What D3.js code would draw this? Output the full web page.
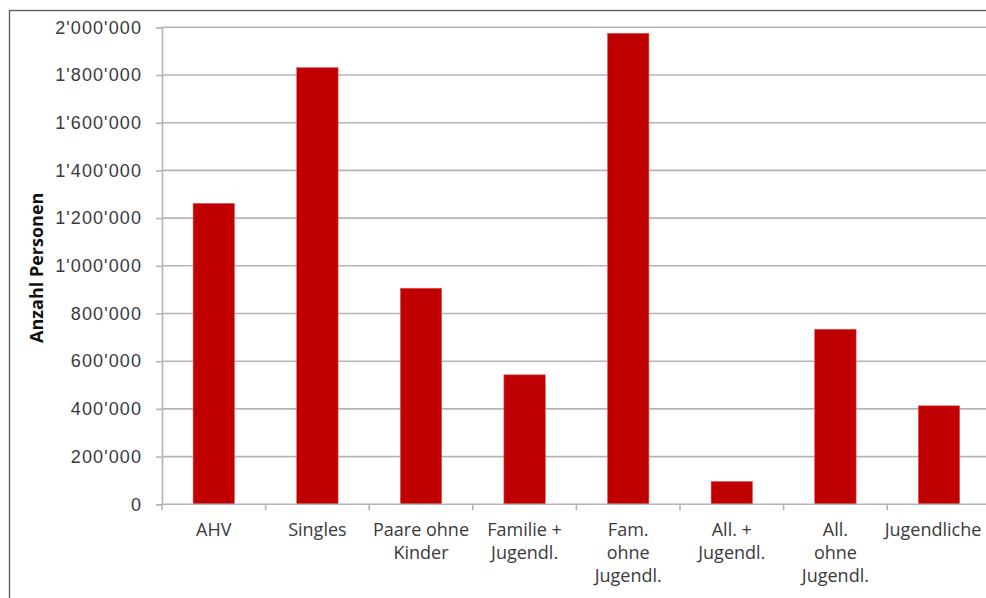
<!DOCTYPE html>
<html>
<head>
<meta charset="utf-8">
<script src="https://cdn.jsdelivr.net/npm/d3@7"></script>
<style>
  html, body { margin: 0; padding: 0; background: #fff; overflow: hidden; }
  svg { display: block; font-family: "Open Sans", "Noto Sans", sans-serif; }
</style>
</head>
<body>
<svg id="chart" width="986" height="598"></svg>
<script>
// Household groups and number of persons in each
const categories = [
  ["AHV"],
  ["Singles"],
  ["Paare ohne", "Kinder"],
  ["Familie +", "Jugendl."],
  ["Fam.", "ohne", "Jugendl."],
  ["All. +", "Jugendl."],
  ["All.", "ohne", "Jugendl."],
  ["Jugendliche"]
];
const persons = [1262000, 1831000, 906000, 543000, 1975000, 96000, 734000, 413000];
const yTicks = [0, 200000, 400000, 600000, 800000, 1000000, 1200000, 1400000, 1600000, 1800000, 2000000];
const yTitle = "Anzahl Personen";

const svg = d3.select("#chart");

// outer chart frame (continues past the right and bottom edges)
svg.append("rect")
  .attr("x", 9.5).attr("y", 10.5)
  .attr("width", 1100).attr("height", 700)
  .attr("fill", "#fff")
  .attr("stroke", "#5a5a5a").attr("stroke-width", 1.3);

const plot = { left: 162, right: 990.8, top: 27.3, bottom: 504.3 };

const keys = categories.map(c => c.join(" "));
const x = d3.scaleBand()
  .domain(keys)
  .range([plot.left, plot.right])
  .paddingInner(0.6)
  .paddingOuter(0.3);

const y = d3.scaleLinear()
  .domain([0, 2000000])
  .range([plot.bottom, plot.top]);

const fmt = v => d3.format(",")(v).replace(/,/g, "'");

// y axis
const yAxis = d3.axisLeft(y)
  .tickValues(yTicks)
  .tickFormat(fmt)
  .tickSize(6)
  .tickPadding(14);

const gy = svg.append("g")
  .attr("transform", `translate(${plot.left},0)`)
  .call(yAxis);
gy.select(".domain").attr("stroke", "#b4b4b4").attr("stroke-width", 1.6);
gy.selectAll(".tick line").attr("stroke", "#b4b4b4").attr("stroke-width", 1.6);
gy.selectAll(".tick text")
  .attr("fill", "#3a3a3a")
  .style("font-size", "18px")
  .style("letter-spacing", "1.1px");

// horizontal gridlines
svg.append("g")
  .selectAll("line")
  .data(yTicks.filter(d => d > 0))
  .join("line")
  .attr("x1", plot.left).attr("x2", plot.right)
  .attr("y1", d => y(d)).attr("y2", d => y(d))
  .attr("stroke", "#b4b4b4").attr("stroke-width", 1.6);

// bars
svg.append("g")
  .selectAll("rect")
  .data(persons)
  .join("rect")
  .attr("x", (d, i) => x(keys[i]))
  .attr("width", x.bandwidth())
  .attr("y", d => y(d))
  .attr("height", d => y(0) - y(d))
  .attr("fill", "#c00000")
  .attr("stroke", "#e06666").attr("stroke-width", 0.6);

// x axis with category boundary ticks
const step = x.step();
const bounds = d3.range(keys.length).map(i => plot.left + i * step);
const gx = svg.append("g");
gx.append("line")
  .attr("x1", plot.left).attr("x2", plot.right)
  .attr("y1", plot.bottom).attr("y2", plot.bottom)
  .attr("stroke", "#b4b4b4").attr("stroke-width", 1.6);
gx.selectAll("line.tk")
  .data(bounds)
  .join("line").attr("class", "tk")
  .attr("x1", d => d).attr("x2", d => d)
  .attr("y1", plot.bottom).attr("y2", plot.bottom + 6)
  .attr("stroke", "#b4b4b4").attr("stroke-width", 1.6);

gx.selectAll("text.cat")
  .data(categories)
  .join("text").attr("class", "cat")
  .attr("x", (d, i) => Math.min(x(keys[i]) + x.bandwidth() / 2, 933))
  .attr("y", 536)
  .attr("text-anchor", "middle")
  .attr("fill", "#3a3a3a")
  .style("font-size", "18px")
  .each(function(lines) {
    const t = d3.select(this);
    lines.forEach((ln, j) => {
      t.append("tspan")
        .attr("x", t.attr("x"))
        .attr("dy", j === 0 ? 0 : 23)
        .text(ln);
    });
  });

// y axis title
svg.append("text")
  .attr("transform", `translate(43,${(plot.top + plot.bottom) / 2 + 2}) rotate(-90)`)
  .attr("text-anchor", "middle")
  .attr("fill", "#111")
  .style("font-size", "18px")
  .style("font-weight", "bold")
  .text(yTitle);
</script>
</body>
</html>
